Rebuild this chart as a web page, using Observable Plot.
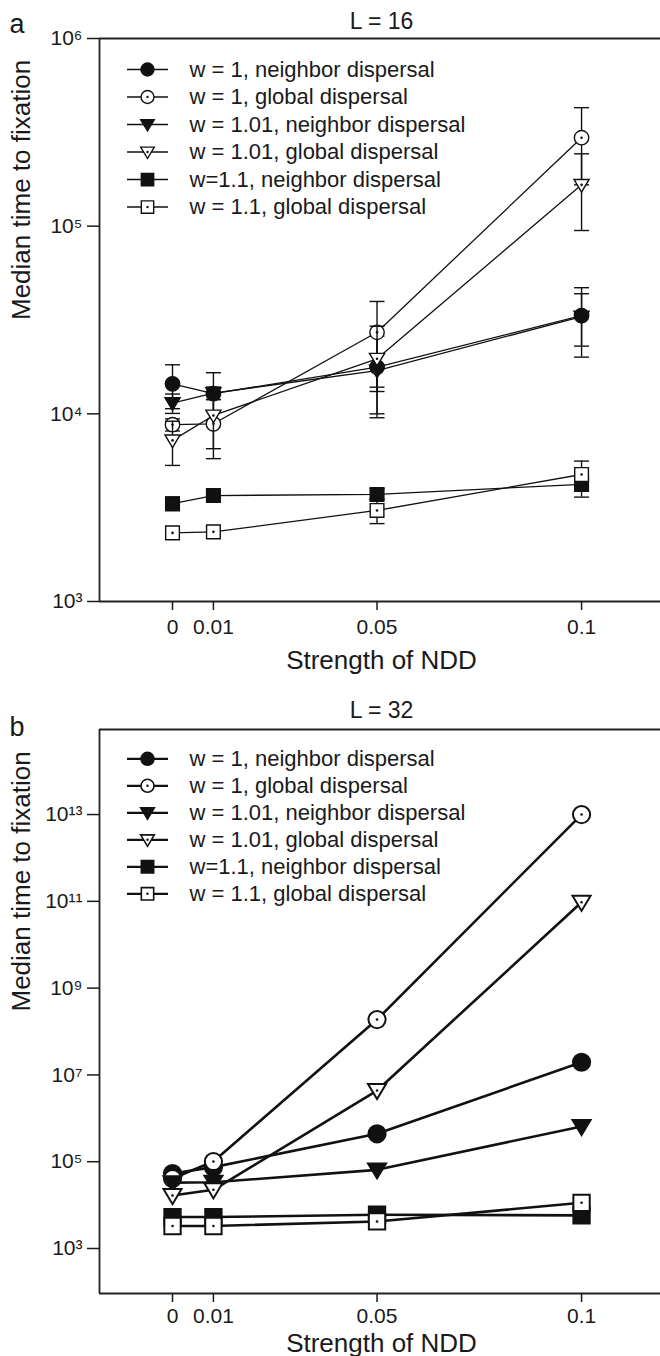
<!DOCTYPE html>
<html><head><meta charset="utf-8">
<script src="https://cdn.jsdelivr.net/npm/d3@7"></script>
<script src="https://cdn.jsdelivr.net/npm/@observablehq/plot@0.6"></script>
<style>
html,body{margin:0;padding:0;background:#fff;}
#chart{width:660px;}
#chart svg{display:block;}
</style></head><body><div id="chart"></div>
<script>
// ---------- shared ----------
const ndd = [0, 0.01, 0.05, 0.1];
const xTickLabels = ["0", "0.01", "0.05", "0.1"];
const xLabel = "Strength of NDD";
const yLabel = "Median time to fixation";
const seriesNames = [
  "w = 1, neighbor dispersal",
  "w = 1, global dispersal",
  "w = 1.01, neighbor dispersal",
  "w = 1.01, global dispersal",
  "w=1.1, neighbor dispersal",
  "w = 1.1, global dispersal"
];
const seriesShapes = ["circle", "circle", "triangle", "triangle", "square", "square"];
const seriesFilled = [true, false, true, false, true, false];

// ---------- panel a : L = 16 ----------
const aTitle = "L = 16";
const aYTicks = [1e3, 1e4, 1e5, 1e6];
const aW1Neighbor   = [14450, 12800, 17750, 33400];
const aW1Global     = [8750, 8850, 27200, 296000];
const aW101Neighbor = [11400, 12900, 17000, 33000];
const aW101Global   = [7220, 9800, 19650, 166000];
const aW11Neighbor  = [3320, 3670, 3720, 4210];
const aW11Global    = [2320, 2350, 3055, 4750];
// error bars (lower / upper)
const aW1NeighborLo   = [10650, 9040, 9530, 20050];
const aW1NeighborHi   = [18250, 16560, 25970, 47000];
const aW1GlobalLo     = [8100, 5770, 13870, 166000];
const aW1GlobalHi     = [9400, 11930, 39700, 428000];
const aW101NeighborLo = [10050, 11900, 13150, 22950];
const aW101NeighborHi = [12750, 13900, 20850, 43650];
const aW101GlobalLo   = [5310, 6520, 10000, 94800];
const aW101GlobalHi   = [9130, 13080, 29300, 243000];
const aW11NeighborLo  = [3050, 3460, 3500, 3600];
const aW11NeighborHi  = [3600, 3900, 3990, 4820];
const aW11GlobalLo    = [2170, 2200, 2600, 3900];
const aW11GlobalHi    = [2500, 2500, 3510, 5600];

// ---------- panel b : L = 32 ----------
const bTitle = "L = 32";
const bYTicks = [1e3, 1e5, 1e7, 1e9, 1e11, 1e13];
const bW1Neighbor   = [5.35e4, 7.5e4, 4.4e5, 1.96e7];
const bW1Global     = [4.1e4, 1.01e5, 1.89e8, 1.0e13];
const bW101Neighbor = [3.3e4, 3.35e4, 6.5e4, 6.5e5];
const bW101Global   = [1.66e4, 2.25e4, 4.37e6, 9.5e10];
const bW11Neighbor  = [5.3e3, 5.3e3, 6.0e3, 5.8e3];
const bW11Global    = [3.3e3, 3.3e3, 4.2e3, 1.13e4];

// ---------- helpers ----------
const INK = "#111";
const FONT = "'Liberation Sans', Arial, Helvetica, sans-serif";
function makeSymbol(kind) {
  return {
    draw(ctx, size) {
      const r = Math.sqrt(size / Math.PI);
      if (kind === "circle") { ctx.moveTo(r, 0); ctx.arc(0, 0, r, 0, 2 * Math.PI); }
      else if (kind === "square") { const s = r * 0.95; ctx.rect(-s, -s, 2 * s, 2 * s); }
      else if (kind === "triangle") {
        const w = r * 1.05, t = -r * 0.75, b = r * 1.0;
        ctx.moveTo(-w, t); ctx.lineTo(w, t); ctx.lineTo(0, b); ctx.closePath();
      } else if (kind === "hline") { ctx.moveTo(-r, 0); ctx.lineTo(r, 0); }
    }
  };
}
const hline = makeSymbol("hline");
const supDigits = {"0":"⁰","1":"¹","2":"²","3":"³","4":"⁴","5":"⁵","6":"⁶","7":"⁷","8":"⁸","9":"⁹","-":"⁻"};
const powFmt = d => "10" + String(Math.round(Math.log10(d))).split("").map(c => supDigits[c]).join("");

function seriesMarks(values, lo, hi, i, o) {
  const data = ndd.map((x, k) => ({x, y: values[k], lo: lo ? lo[k] : null, hi: hi ? hi[k] : null}));
  const sym = makeSymbol(seriesShapes[i]);
  const filled = seriesFilled[i];
  const marks = [];
  if (lo) {
    marks.push(Plot.ruleX(data, {x: "x", y1: "lo", y2: "hi", stroke: INK, strokeWidth: o.ebw}));
    marks.push(Plot.dot(data, {x: "x", y: "lo", symbol: hline, r: o.cap, stroke: INK, strokeWidth: o.ebw}));
    marks.push(Plot.dot(data, {x: "x", y: "hi", symbol: hline, r: o.cap, stroke: INK, strokeWidth: o.ebw}));
  }
  marks.push(Plot.line(data, {x: "x", y: "y", stroke: INK, strokeWidth: o.lw}));
  marks.push(Plot.dot(data, {x: "x", y: "y", symbol: sym, r: o.r, fill: filled ? INK : "white", stroke: INK, strokeWidth: o.mw}));
  if (!filled) marks.push(Plot.dot(data, {x: "x", y: "y", r: 1.3, fill: INK, stroke: "none"}));
  return marks;
}

function legendMarks(o) {
  const marks = [];
  seriesNames.forEach((name, i) => {
    const dy = o.top + o.step * i;
    const sym = makeSymbol(seriesShapes[i]);
    marks.push(Plot.dot([name], {frameAnchor: "top-left", dx: 48, dy, symbol: hline, r: 20.5, stroke: INK, strokeWidth: o.lw}));
    marks.push(Plot.dot([name], {frameAnchor: "top-left", dx: 48, dy, symbol: sym, r: o.r, fill: seriesFilled[i] ? INK : "white", stroke: INK, strokeWidth: o.mw}));
    if (!seriesFilled[i]) marks.push(Plot.dot([name], {frameAnchor: "top-left", dx: 48, dy, r: 1.2, fill: INK, stroke: "none"}));
    marks.push(Plot.text([name], {text: d => d, frameAnchor: "top-left", dx: 90, dy, textAnchor: "start", lineAnchor: "middle", fontSize: 22, fill: "#1a1a1a"}));
  });
  return marks;
}

function panel(cfg) {
  const xDomain = [-0.01785, 0.1193];
  return Plot.plot({
    width: 660,
    height: cfg.height,
    marginLeft: 99, marginRight: 0,
    marginTop: cfg.marginTop, marginBottom: cfg.marginBottom,
    style: {fontFamily: FONT, fontSize: "21px", background: "white", color: "#1a1a1a", overflow: "visible"},
    x: {domain: xDomain},
    y: {type: "log", domain: cfg.yDomain},
    marks: [
      // frame: left, top, bottom
      Plot.ruleX([xDomain[0]], {stroke: "#222", strokeWidth: 1.8}),
      Plot.ruleY(cfg.yDomain, {stroke: "#222", strokeWidth: 1.8}),
      Plot.axisX({ticks: ndd, tickFormat: d => xTickLabels[ndd.indexOf(d)], tickSize: 9, tickPadding: cfg.xTickPadding, fontSize: 21, strokeWidth: 1.5, label: null}),
      Plot.axisY({ticks: cfg.yTicks, tickFormat: powFmt, tickSize: 12, tickPadding: 5, fontSize: 21, strokeWidth: 1.5, label: null}),
      Plot.text([xLabel], {text: d => d, frameAnchor: "bottom", dx: 1.5, dy: cfg.xLabelDy, lineAnchor: "middle", fontSize: 26}),
      Plot.text([yLabel], {text: d => d, frameAnchor: "left", dx: -78, rotate: -90, lineAnchor: "middle", fontSize: 26}),
      Plot.text([cfg.title], {text: d => d, frameAnchor: "top", dx: 1.5, dy: cfg.titleDy, lineAnchor: "middle", fontSize: 23}),
      Plot.text([cfg.letter], {text: d => d, frameAnchor: "top-left", dx: -90, dy: cfg.letterDy, textAnchor: "start", lineAnchor: "bottom", fontSize: 27}),
      ...legendMarks(cfg.legend),
      ...cfg.series.flatMap((s, i) => seriesMarks(s.v, s.lo, s.hi, i, cfg.style))
    ]
  });
}

const chart = document.getElementById("chart");
chart.appendChild(panel({
  height: 685, marginTop: 38, marginBottom: 84,
  yDomain: [1e3, 1e6], yTicks: aYTicks, title: aTitle, letter: "a",
  titleDy: -17, letterDy: -6, xLabelDy: 59, xTickPadding: 9,
  legend: {top: 31, step: 27.5, r: 6.5, lw: 1.5, mw: 1.4},
  style: {r: 7.2, lw: 1.3, mw: 1.4, ebw: 1.4, cap: 7.5},
  series: [
    {v: aW1Neighbor, lo: aW1NeighborLo, hi: aW1NeighborHi},
    {v: aW1Global, lo: aW1GlobalLo, hi: aW1GlobalHi},
    {v: aW101Neighbor, lo: aW101NeighborLo, hi: aW101NeighborHi},
    {v: aW101Global, lo: aW101GlobalLo, hi: aW101GlobalHi},
    {v: aW11Neighbor, lo: aW11NeighborLo, hi: aW11NeighborHi},
    {v: aW11Global, lo: aW11GlobalLo, hi: aW11GlobalHi}
  ]
}));
chart.appendChild(panel({
  height: 671, marginTop: 44, marginBottom: 63,
  yDomain: [Math.pow(10, 1.963), Math.pow(10, 14.96)], yTicks: bYTicks, title: bTitle, letter: "b",
  titleDy: -19, letterDy: 6, xLabelDy: 50.5, xTickPadding: 6,
  legend: {top: 29.3, step: 27, r: 6.5, lw: 2.2, mw: 1.6},
  style: {r: 8.6, lw: 2.6, mw: 2, ebw: 2, cap: 8},
  series: [
    {v: bW1Neighbor}, {v: bW1Global}, {v: bW101Neighbor},
    {v: bW101Global}, {v: bW11Neighbor}, {v: bW11Global}
  ]
}));
</script>
</body></html>
